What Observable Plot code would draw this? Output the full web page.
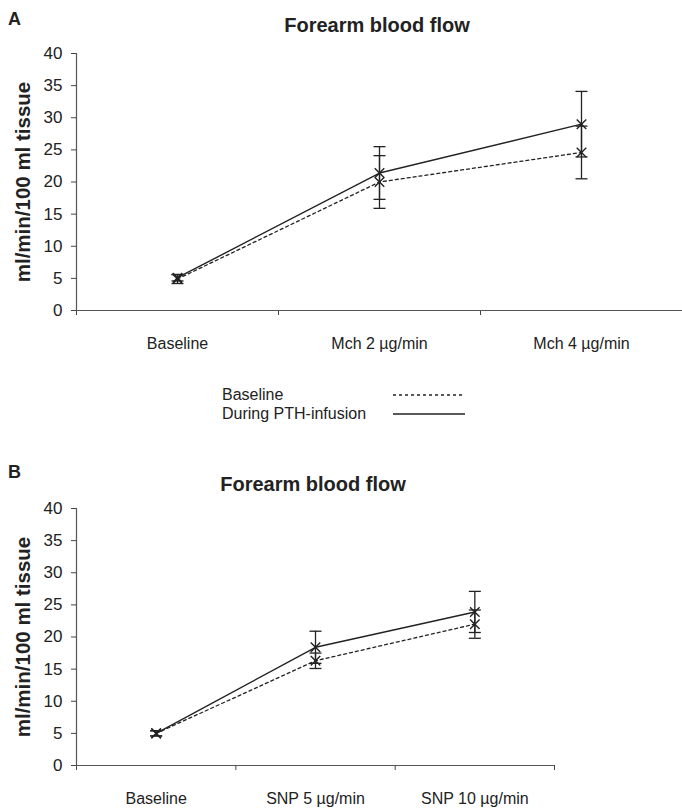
<!DOCTYPE html>
<html><head><meta charset="utf-8">
<script src="https://cdn.jsdelivr.net/npm/d3@7"></script>
<script src="https://cdn.jsdelivr.net/npm/@observablehq/plot@0.6"></script>
<style>
body{margin:0;background:#fff;font-family:"Liberation Sans",Arial,sans-serif;color:#222}
#root{position:relative;width:682px;height:808px;overflow:hidden;background:#fff}
.abs{position:absolute;white-space:nowrap}
.letter{font:bold 18px "Liberation Sans",Arial,sans-serif}
.title{font:bold 20px "Liberation Sans",Arial,sans-serif;transform:translate(-50%,-50%)}
.leg{font:16px "Liberation Sans",Arial,sans-serif;transform:translateY(-50%)}
</style></head><body><div id="root"></div>
<script>
// ---- data ----
const seriesNames = ["Baseline", "During PTH-infusion"];
const categoriesA = ["Baseline", "Mch 2 µg/min", "Mch 4 µg/min"];
const baselineA = [4.9, 20.0, 24.6];
const baselineErrA = [0.7, 4.1, 4.1];
const pthA = [5.1, 21.4, 29.0];
const pthErrA = [0.5, 4.1, 5.1];
const categoriesB = ["Baseline", "SNP 5 µg/min", "SNP 10 µg/min"];
const baselineB = [5.0, 16.3, 22.0];
const baselineErrB = [0.4, 1.2, 2.2];
const pthB = [5.0, 18.4, 23.9];
const pthErrB = [0.4, 2.5, 3.2];
const yTicks = [0, 5, 10, 15, 20, 25, 30, 35, 40];
const yLabel = "ml/min/100 ml tissue";
const chartTitle = "Forearm blood flow";

const FONT = '"Liberation Sans", Arial, sans-serif';
const INK = "#222";
const capSymbol = {draw(ctx) { ctx.moveTo(-6, 0); ctx.lineTo(6, 0); }};

function panel(cats, bv, be, pv, pe, marginRight) {
  const rows = [];
  cats.forEach((c, i) => {
    rows.push({x: i + 0.5, series: seriesNames[0], v: bv[i], e: be[i]});
    rows.push({x: i + 0.5, series: seriesNames[1], v: pv[i], e: pe[i]});
  });
  const base = rows.filter(d => d.series === seriesNames[0]);
  const pth = rows.filter(d => d.series === seriesNames[1]);
  return Plot.plot({
    width: 682, height: 359,
    marginLeft: 76, marginRight, marginTop: 53, marginBottom: 49,
    style: {fontFamily: FONT, fontSize: "16px", color: INK, background: "transparent", overflow: "visible"},
    x: {domain: [0, cats.length]},
    y: {domain: [0, 40]},
    marks: [
      Plot.axisY({ticks: yTicks, tickSize: 5, tickPadding: 9, fontSize: 17, label: null, stroke: "#444"}),
      Plot.axisX({ticks: d3.range(cats.length + 1), tickFormat: () => "", tickSize: 5, label: null, stroke: "#444"}),
      Plot.axisX({ticks: cats.map((c, i) => i + 0.5), tickFormat: t => cats[Math.floor(t)], tickSize: 0, tickPadding: 27, label: null, fontSize: 16}),
      Plot.text([yLabel], {frameAnchor: "left", textAnchor: "middle", lineAnchor: "middle", rotate: -90, dx: -53, fontWeight: "bold", fontSize: 20.5, fill: INK}),
      Plot.ruleX([0], {stroke: "#555", strokeWidth: 1.2}),
      Plot.ruleY([0], {stroke: "#555", strokeWidth: 1.2}),
      Plot.ruleX(rows, {x: "x", y1: d => d.v - d.e, y2: d => d.v + d.e, stroke: INK, strokeWidth: 1.3}),
      Plot.dot(rows, {x: "x", y: d => d.v - d.e, symbol: capSymbol, fill: "none", stroke: INK, strokeWidth: 1.3}),
      Plot.dot(rows, {x: "x", y: d => d.v + d.e, symbol: capSymbol, fill: "none", stroke: INK, strokeWidth: 1.3}),
      Plot.line(base, {x: "x", y: "v", stroke: INK, strokeWidth: 1.3, strokeDasharray: "3,3"}),
      Plot.line(pth, {x: "x", y: "v", stroke: INK, strokeWidth: 1.4}),
      Plot.dot(rows, {x: "x", y: "v", symbol: "times", r: 4.4, fill: "none", stroke: INK, strokeWidth: 1.4})
    ]
  });
}

const root = document.getElementById("root");
function add(text, cls, left, top) {
  const d = document.createElement("div");
  d.className = "abs " + cls;
  d.style.left = left + "px"; d.style.top = top + "px";
  d.textContent = text;
  root.appendChild(d);
  return d;
}

const svgA = panel(categoriesA, baselineA, baselineErrA, pthA, pthErrA, 0);
svgA.style.position = "absolute"; svgA.style.left = "0px"; svgA.style.top = "0px";
root.appendChild(svgA);

const svgB = panel(categoriesB, baselineB, baselineErrB, pthB, pthErrB, 128);
svgB.style.position = "absolute"; svgB.style.left = "0px"; svgB.style.top = "455px";
root.appendChild(svgB);

add("A", "letter", 8, 9);
add(chartTitle, "title", 377, 25);
add("B", "letter", 8, 462);
add(chartTitle, "title", 313, 484);

// legend
add(seriesNames[0], "leg", 222, 395);
add(seriesNames[1], "leg", 222, 414);
const leg = document.createElementNS("http://www.w3.org/2000/svg", "svg");
leg.setAttribute("width", 80); leg.setAttribute("height", 30);
leg.style.position = "absolute"; leg.style.left = "390px"; leg.style.top = "384px";
[[11, "3,3"], [30 - 0, null]].forEach(([y, dash]) => {
  const l = document.createElementNS("http://www.w3.org/2000/svg", "line");
  l.setAttribute("x1", 3); l.setAttribute("x2", 75); l.setAttribute("y1", y); l.setAttribute("y2", y);
  l.setAttribute("stroke", INK); l.setAttribute("stroke-width", 1.4);
  if (dash) l.setAttribute("stroke-dasharray", dash);
  leg.appendChild(l);
});
leg.setAttribute("height", 34);
root.appendChild(leg);
</script>
</body></html>
